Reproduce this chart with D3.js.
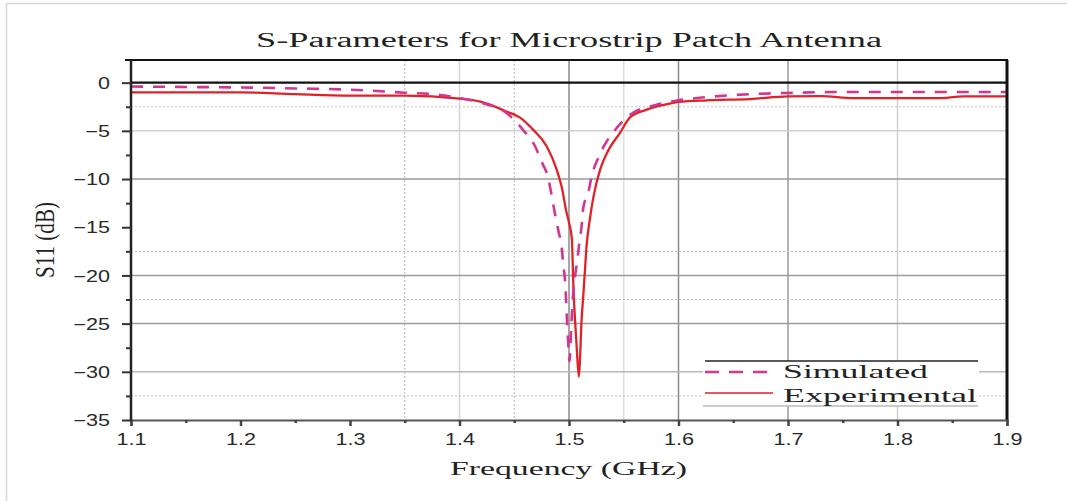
<!DOCTYPE html>
<html>
<head>
<meta charset="utf-8">
<script src="https://cdn.jsdelivr.net/npm/d3@7"></script>
<style>
  html, body { margin: 0; padding: 0; background: #fff; }
  svg { display: block; }
</style>
</head>
<body>
<svg id="chart" width="1067" height="501"></svg>
<script>
// S11 reflection coefficient of the microstrip patch antenna (dB vs GHz)
const simFreq = [1.10, 1.15, 1.20, 1.25, 1.30, 1.35, 1.38, 1.40, 1.42, 1.443, 1.458, 1.469, 1.475,
  1.481, 1.484, 1.487, 1.4902, 1.4933, 1.4948, 1.4964, 1.4973, 1.498, 1.4988, 1.4996, 1.5005,
  1.502, 1.5035, 1.5055, 1.5076, 1.5094, 1.5115, 1.513, 1.5178, 1.5207, 1.5268, 1.5344, 1.5436,
  1.556, 1.58, 1.60, 1.626, 1.665, 1.70, 1.75, 1.80, 1.85, 1.90];
const simulated = [-0.40, -0.45, -0.50, -0.60, -0.73, -1.04, -1.25, -1.60, -2.1, -3.15, -4.9, -6.6, -8.2,
  -9.9, -11.6, -13.5, -15.3, -17.1, -18.9, -20.6, -22.5, -24.3, -26.0, -27.6, -28.9,
  -25.5, -22.3, -20.1, -18.45, -16.6, -14.9, -13.0, -11.3, -9.7, -7.8, -6.1, -4.7,
  -3.3, -2.3, -1.83, -1.5, -1.2, -1.07, -0.97, -0.97, -0.97, -0.97];

const expFreq = [1.10, 1.15, 1.20, 1.25, 1.30, 1.35, 1.40, 1.42, 1.443, 1.455, 1.4674, 1.4796,
  1.4887, 1.4933, 1.4978, 1.500, 1.5027, 1.5033, 1.504, 1.5055, 1.507, 1.509, 1.510, 1.5115,
  1.513, 1.5146, 1.516, 1.519, 1.5224, 1.5285, 1.536, 1.5466, 1.5557, 1.571, 1.595, 1.60,
  1.626, 1.665, 1.70, 1.73, 1.76, 1.80, 1.84, 1.86, 1.90];
const experimental = [-1.0, -1.0, -1.0, -1.2, -1.35, -1.35, -1.65, -2.0, -3.0, -3.6, -4.9, -6.6,
  -9.0, -10.8, -13.5, -14.5, -16.3, -18.4, -21.1, -24.6, -27.4, -30.5, -28.8, -24.6,
  -22.2, -19.4, -17.0, -14.2, -11.8, -9.0, -7.0, -5.2, -3.6, -2.8, -2.1, -2.0,
  -1.83, -1.7, -1.42, -1.4, -1.6, -1.6, -1.6, -1.42, -1.42];

const xTicks = [1.1, 1.2, 1.3, 1.4, 1.5, 1.6, 1.7, 1.8, 1.9];
const xMinorTicks = [1.15, 1.25, 1.35, 1.45, 1.55, 1.65, 1.75, 1.85];
const yTicks = [0, -5, -10, -15, -20, -25, -30, -35];
const yMinorTicks = [-2.5, -7.5, -12.5, -17.5, -22.5, -27.5, -32.5];
const seriesNames = ["Simulated", "Experimental"];

const svg = d3.select("#chart");
const plotL = 131, plotR = 1007, plotT = 60, plotB = 420;

const x = d3.scaleLinear().domain([1.1, 1.9]).range([plotL, plotR]);
const y = d3.scaleLinear().domain([-35, 2.35]).range([plotB, plotT]);

// outer frame of the figure
svg.append("rect").attr("x", 6.5).attr("y", 3.5).attr("width", 1100).attr("height", 600)
  .attr("fill", "none").attr("stroke", "#d6d6d6").attr("stroke-width", 1.5);

// grid
const grid = svg.append("g");
const vSolid = [[1.4, "#d4d4d4"], [1.5, "#8a8a8a"], [1.55, "#dddddd"], [1.6, "#8a8a8a"], [1.7, "#999"], [1.8, "#cfcfcf"]];
const vDotted = [1.35, 1.45];
const hSolid = [[-5, "#cfcfcf"], [-10, "#9a9a9a"], [-20, "#9a9a9a"], [-25, "#9a9a9a"], [-30, "#b8b8b8"]];
const hDotted = [-2.5, -17.5, -22.5, -32.5];
vSolid.forEach(([v, c]) => grid.append("line").attr("x1", x(v)).attr("x2", x(v)).attr("y1", plotT).attr("y2", plotB)
  .attr("stroke", c).attr("stroke-width", 1.5));
vDotted.forEach(v => grid.append("line").attr("x1", x(v)).attr("x2", x(v)).attr("y1", plotT).attr("y2", plotB)
  .attr("stroke", "#c4c4c4").attr("stroke-width", 1.2).attr("stroke-dasharray", "2,2"));
hSolid.forEach(([v, c]) => grid.append("line").attr("x1", plotL).attr("x2", plotR).attr("y1", y(v)).attr("y2", y(v))
  .attr("stroke", c).attr("stroke-width", 1.5));
hDotted.forEach(v => grid.append("line").attr("x1", plotL).attr("x2", plotR).attr("y1", y(v)).attr("y2", y(v))
  .attr("stroke", "#c4c4c4").attr("stroke-width", 1.2).attr("stroke-dasharray", "2,2"));

// zero reference line
svg.append("line").attr("x1", plotL).attr("x2", plotR).attr("y1", y(0)).attr("y2", y(0))
  .attr("stroke", "#111").attr("stroke-width", 2.2);

// curves
const line = (fs) => d3.line().x((d, i) => x(fs[i])).y(d => y(d)).curve(d3.curveMonotoneX);
svg.append("path").datum(experimental).attr("d", line(expFreq))
  .attr("fill", "none").attr("stroke", "#df2228").attr("stroke-width", 2.3);
svg.append("path").datum(simulated).attr("d", line(simFreq))
  .attr("fill", "none").attr("stroke", "#d2368f").attr("stroke-width", 2.6)
  .attr("stroke-dasharray", "12,10");

// frame top & right
svg.append("line").attr("x1", plotL - 6).attr("x2", plotR + 1).attr("y1", plotT).attr("y2", plotT)
  .attr("stroke", "#111").attr("stroke-width", 2);
svg.append("line").attr("x1", plotR).attr("x2", plotR).attr("y1", plotT).attr("y2", plotB + 1)
  .attr("stroke", "#111").attr("stroke-width", 3);

const tickFont = "'Liberation Sans', Arial, sans-serif";
const sx = 1.35;

// x axis
const xAxis = svg.append("g").attr("transform", `translate(0,${plotB})`)
  .call(d3.axisBottom(x).tickValues(xTicks).tickSize(6).tickFormat(d3.format(".1f")));
svg.append("g").attr("transform", `translate(0,${plotB})`)
  .call(d3.axisBottom(x).tickValues(xMinorTicks).tickSize(3).tickFormat(""))
  .call(g => g.select(".domain").remove())
  .call(g => g.selectAll("line").attr("stroke", "#444").attr("stroke-width", 2.5));
xAxis.select(".domain").attr("stroke", "#555").attr("stroke-width", 2.2);
xAxis.selectAll(".tick line").attr("stroke", "#444").attr("stroke-width", 2.5);
xAxis.selectAll(".tick text").attr("y", 25).attr("dy", null)
  .attr("transform", `scale(${sx},1)`)
  .attr("font-family", tickFont).attr("font-size", 16).attr("fill", "#2a2a2a");

// y axis
const yAxis = svg.append("g").attr("transform", `translate(${plotL},0)`)
  .call(d3.axisLeft(y).tickValues(yTicks).tickSize(9).tickFormat(d3.format("d")));
svg.append("g").attr("transform", `translate(${plotL},0)`)
  .call(d3.axisLeft(y).tickValues(yMinorTicks).tickSize(5).tickFormat(""))
  .call(g => g.select(".domain").remove())
  .call(g => g.selectAll("line").attr("stroke", "#333").attr("stroke-width", 2));
yAxis.select(".domain").attr("stroke", "#222").attr("stroke-width", 2.5)
  .attr("d", `M0,${plotB + 1}V${plotT}`);
yAxis.selectAll(".tick line").attr("stroke", "#333").attr("stroke-width", 2);
yAxis.selectAll(".tick text").attr("x", null).attr("dy", "0.36em")
  .attr("transform", `translate(-21,0) scale(${sx},1)`)
  .attr("font-family", tickFont).attr("font-size", 16).attr("fill", "#2a2a2a");

// titles
const serif = "'Liberation Serif', 'Times New Roman', serif";
svg.append("text").attr("x", 256).attr("y", 47).text("S-Parameters for Microstrip Patch Antenna")
  .attr("font-family", serif).attr("font-size", 20).attr("fill", "#222")
  .attr("textLength", 626).attr("lengthAdjust", "spacingAndGlyphs");
svg.append("text").attr("x", 450).attr("y", 475).text("Frequency (GHz)")
  .attr("font-family", serif).attr("font-size", 19).attr("fill", "#222")
  .attr("textLength", 237).attr("lengthAdjust", "spacingAndGlyphs");
svg.append("text").attr("transform", "translate(54,240) rotate(-90) scale(1,1.4)").attr("text-anchor", "middle")
  .text("S11 (dB)").attr("font-family", serif).attr("font-size", 19).attr("fill", "#222")
  .attr("textLength", 76).attr("lengthAdjust", "spacingAndGlyphs");

// legend
const lg = svg.append("g");
lg.append("rect").attr("x", 703).attr("y", 361).attr("width", 276).attr("height", 45).attr("fill", "#fff");
lg.append("line").attr("x1", 705).attr("x2", 978).attr("y1", 361).attr("y2", 361).attr("stroke", "#222").attr("stroke-width", 1.5);
lg.append("line").attr("x1", 703).attr("x2", 978).attr("y1", 406).attr("y2", 406).attr("stroke", "#bbb").attr("stroke-width", 1.5);
lg.append("line").attr("x1", 705).attr("x2", 773).attr("y1", 372).attr("y2", 372)
  .attr("stroke", "#d2368f").attr("stroke-width", 2.6).attr("stroke-dasharray", "14,10");
lg.append("line").attr("x1", 705).attr("x2", 773).attr("y1", 393).attr("y2", 393)
  .attr("stroke", "#df2228").attr("stroke-width", 1.6);
lg.append("text").attr("x", 783).attr("y", 378).text(seriesNames[0])
  .attr("font-family", serif).attr("font-size", 19).attr("fill", "#222")
  .attr("textLength", 145).attr("lengthAdjust", "spacingAndGlyphs");
lg.append("text").attr("x", 783).attr("y", 402).text(seriesNames[1])
  .attr("font-family", serif).attr("font-size", 19).attr("fill", "#222")
  .attr("textLength", 194).attr("lengthAdjust", "spacingAndGlyphs");
</script>
</body>
</html>
